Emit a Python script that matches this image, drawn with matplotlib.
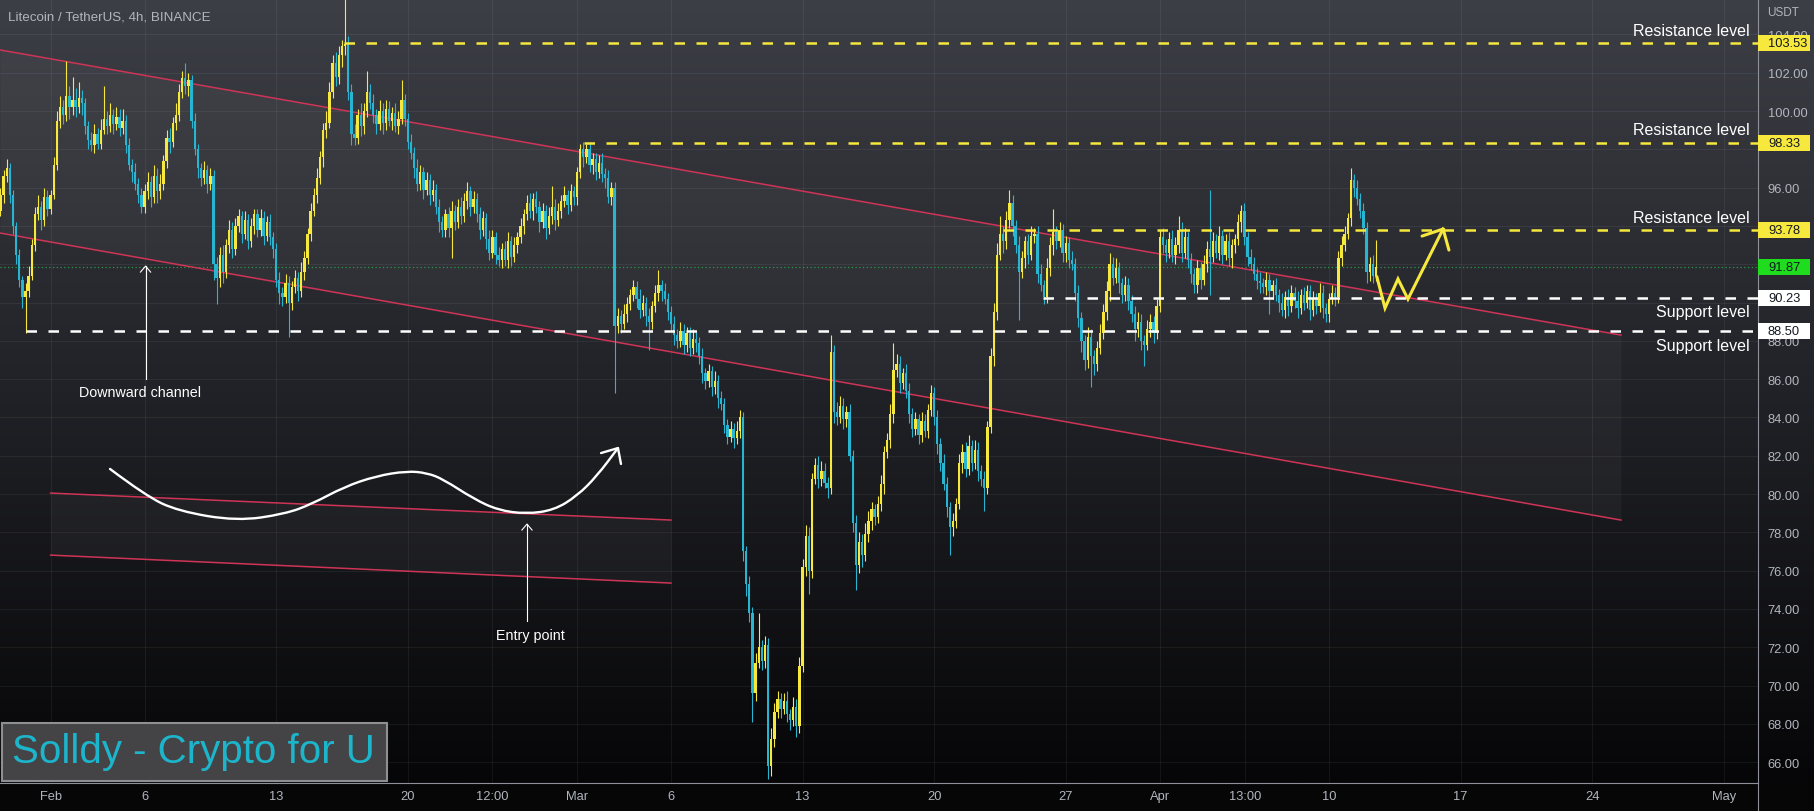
import numpy as np
import matplotlib.pyplot as plt
import matplotlib.transforms as mtransforms
from matplotlib.patches import Rectangle, PathPatch
from matplotlib.path import Path
from matplotlib.lines import Line2D

plt.rcParams['font.family'] = ['Liberation Sans', 'DejaVu Sans']

# ---- candle data (4h LTC/USDT), x = days since Feb 1 00:00 ----
t0 = -2.6667          # first candle: Jan 29 08:00
first_open = 94.8

closes = [
    95.6, 96.6, 97.0, 95.6,                     # Jan 29
    94.0, 92.5, 91.2, 90.3, 90.6, 91.4,         # Jan 30
    93.0, 94.6, 95.0, 94.3, 95.5, 94.9,         # Jan 31
    95.6, 97.2, 99.5, 100.2, 99.8, 100.8,       # Feb 1
    100.2, 100.6, 100.2, 100.7, 100.4, 99.2,    # Feb 2
    98.5, 98.2, 98.8, 98.3, 99.0, 99.6,         # Feb 3
    99.2, 99.8, 99.3, 99.7, 99.1, 99.5,         # Feb 4
    98.2, 97.2, 96.8, 96.2, 95.6, 95.0,         # Feb 5
    95.8, 96.3, 95.5, 96.6, 95.8, 96.2,         # Feb 6
    97.4, 98.6, 98.4, 99.4, 99.8, 101.0,        # Feb 7
    101.7, 101.3, 101.6, 99.5, 98.0, 97.0,      # Feb 8
    96.5, 96.9, 96.2, 96.6, 92.0, 91.3,         # Feb 9
    92.5, 91.6, 93.0, 93.8, 92.8, 94.0,         # Feb 10
    94.5, 93.6, 94.3, 93.2, 94.0, 94.6,         # Feb 11
    93.8, 94.4, 93.5, 94.2, 93.4, 92.8,         # Feb 12
    91.2, 90.5, 90.3, 91.0, 90.0, 90.8,         # Feb 13
    91.3, 90.6, 91.6, 92.3, 93.6, 94.8,         # Feb 14
    95.6, 96.5, 97.6, 99.0, 99.4, 101.0,        # Feb 15
    102.5, 101.8, 102.9, 103.4, 103.5, 101.0,   # Feb 16
    98.8, 98.6, 99.8, 99.2, 100.0, 101.0,       # Feb 17
    100.4, 99.8, 99.3, 100.0, 99.4, 100.1,      # Feb 18
    99.5, 99.9, 99.2, 99.6, 100.6, 99.6,        # Feb 19
    98.4, 97.8, 97.0, 96.2, 96.8, 95.9,         # Feb 20
    96.4, 95.6, 95.9, 95.0, 94.2, 93.8,         # Feb 21
    94.6, 93.9, 94.8, 94.2, 95.0, 94.5,         # Feb 22
    95.3, 95.8, 95.0, 95.4, 94.6, 93.8,         # Feb 23
    94.4, 93.3, 92.6, 93.4, 92.5, 92.2,         # Feb 24
    92.8, 92.2, 93.2, 92.4, 93.0, 93.4,         # Feb 25
    94.0, 94.6, 95.2, 94.8, 95.4, 95.0,         # Feb 26
    94.2, 94.8, 93.9, 94.5, 95.0, 94.3,         # Feb 27
    94.8, 95.3, 95.6, 95.1, 95.8, 95.5,         # Feb 28
    96.8, 98.0, 97.6, 98.0, 97.2, 97.5,         # Mar 1
    96.8, 97.3, 96.7, 96.5, 95.5, 96.0,         # Mar 2
    88.8, 89.3, 88.9, 89.4, 89.9, 90.4,         # Mar 3
    90.8, 90.2, 89.6, 90.0, 89.3, 89.0,         # Mar 4
    89.8, 90.5, 90.9, 90.6, 90.2, 89.5,         # Mar 5
    88.9, 88.3, 88.0, 88.5, 87.8, 88.4,         # Mar 6
    87.6, 88.1, 87.9, 87.2, 86.3, 85.9,         # Mar 7
    86.4, 85.6, 85.9, 85.0, 84.7, 83.6,         # Mar 8
    83.0, 83.4, 82.9, 83.3, 84.0, 77.0,         # Mar 9
    75.3, 73.8, 69.6, 71.2, 72.0, 71.3,         # Mar 10
    72.1, 65.8, 67.2, 68.6, 69.3, 68.8,         # Mar 11
    69.2, 68.5, 68.2, 68.9, 67.9, 71.0,         # Mar 12
    76.2, 77.8, 76.0, 80.8, 81.5, 80.8,         # Mar 13
    81.2, 80.6, 80.3, 87.4, 84.3, 84.0,         # Mar 14
    84.6, 83.9, 84.3, 82.0, 78.5, 76.3,         # Mar 15
    77.5, 76.8, 77.9, 78.6, 79.2, 78.8,         # Mar 16
    79.5, 80.5, 82.2, 82.8, 84.2, 86.5,         # Mar 17
    86.8, 85.8, 86.3, 85.4, 84.2, 83.4,         # Mar 18
    83.9, 83.1, 83.8, 83.3, 84.4, 85.3,         # Mar 19
    84.0, 82.6, 81.6, 80.5, 79.3, 78.3,         # Mar 20
    78.6, 79.5, 81.6, 82.2, 81.3, 82.5,         # Mar 21
    81.6, 82.3, 81.2, 80.8, 80.3, 83.5,         # Mar 22
    87.2, 89.5, 92.5, 93.6, 93.2, 94.3,         # Mar 23
    95.2, 94.0, 93.0, 91.6, 92.3, 93.2,         # Mar 24
    92.5, 93.5, 93.6, 91.5, 90.9, 90.3,         # Mar 25
    91.8, 93.0, 93.7, 93.2, 93.8, 92.6,         # Mar 26
    93.1, 92.2, 92.0, 90.5, 89.2, 88.0,         # Mar 27
    87.0, 88.2, 87.2, 86.8, 87.6, 88.4,         # Mar 28
    89.5, 90.6, 92.0, 91.3, 91.8, 91.0,         # Mar 29
    90.4, 90.9, 90.1, 89.4, 88.6, 89.0,         # Mar 30
    88.0, 87.8, 88.6, 89.0, 88.4, 89.8,         # Mar 31
    93.4, 93.0, 92.6, 93.3, 92.5, 93.0,         # Apr 1
    93.8, 92.6, 93.4, 92.2, 91.5, 90.9,         # Apr 2
    91.8, 91.2, 92.0, 92.8, 92.4, 93.2,         # Apr 3
    92.6, 93.5, 92.5, 93.2, 92.3, 93.0,         # Apr 4
    93.3, 94.2, 94.8, 93.4, 92.4, 92.0,         # Apr 5
    91.5, 91.1, 91.0, 90.8, 91.2, 90.6,         # Apr 6
    90.9, 90.4, 90.0, 89.6, 90.3, 89.8,         # Apr 7
    90.5, 90.1, 89.7, 90.4, 90.0, 90.6,         # Apr 8
    89.6, 90.2, 89.8, 90.5, 89.7, 89.4,         # Apr 9
    90.2, 90.5, 90.3, 92.3, 93.0, 93.6,         # Apr 10
    94.4, 96.4, 96.0, 95.4, 94.8, 93.9,         # Apr 11
    91.6, 92.0, 91.4, 91.87,                    # Apr 12
]

# wick lengths above / below the body, in tenths of a dollar
up_wick = [
    4, 3, 5, 3,
    3, 2, 3, 2, 4, 5,   3, 4, 6, 3, 5, 4,
    3, 4, 5, 6, 4, 18,  5, 12, 6, 8, 4, 3,  3, 4, 5, 3, 6, 17,  4, 6, 3, 5, 4, 6,
    3, 4, 3, 5, 3, 4,   4, 5, 3, 6, 4, 5,   3, 4, 5, 3, 6, 4,   4, 8, 4, 3, 4, 3,
    3, 5, 3, 4, 3, 4,   4, 5, 3, 5, 4, 4,   4, 3, 5, 3, 4, 3,   3, 5, 4, 3, 4, 3,
    3, 4, 3, 5, 4, 3,   4, 3, 5, 4, 3, 4,   4, 5, 3, 4, 6, 5,   4, 6, 5, 3, 25, 4,
    4, 5, 3, 6, 4, 11,  4, 5, 3, 6, 4, 5,   4, 3, 5, 4, 10, 3,  3, 4, 3, 5, 4, 3,
    4, 3, 5, 3, 4, 3,   3, 4, 5, 3, 4, 5,   4, 5, 3, 4, 3, 4,   4, 3, 5, 4, 3, 4,
    3, 4, 5, 3, 4, 3,   4, 3, 4, 5, 3, 4,   3, 4, 3, 5, 11, 4,  4, 3, 5, 3, 4, 3,
    3, 3, 4, 3, 4, 3,   3, 4, 5, 3, 4, 3,   3, 4, 3, 5, 4, 3,   4, 3, 5, 4, 3, 4,
    3, 4, 8, 3, 4, 3,   3, 4, 3, 5, 4, 3,   3, 5, 4, 3, 4, 3,   4, 3, 5, 3, 4, 3,
    3, 4, 3, 5, 4, 3,   3, 4, 3, 5, 18, 4,  5, 4, 6, 5, 4, 3,   4, 5, 3, 5, 4, 5,
    4, 6, 5, 3, 4, 5,   5, 4, 3, 9, 4, 5,   5, 4, 3, 4, 3, 4,   5, 4, 6, 5, 4, 3,
    4, 5, 3, 4, 5, 14,  5, 4, 3, 5, 4, 3,   4, 3, 5, 4, 3, 4,   3, 4, 3, 5, 4, 3,
    4, 3, 5, 4, 5, 6,   3, 5, 4, 3, 4, 3,   4, 5, 6, 9, 4, 5,   7, 4, 3, 5, 4, 3,
    4, 5, 3, 4, 5, 3,   5, 4, 12, 3, 4, 3,  4, 3, 5, 3, 4, 3,   3, 5, 4, 3, 4, 5,
    4, 5, 6, 4, 5, 3,   3, 5, 4, 3, 4, 5,   4, 3, 5, 4, 3, 4,
    4, 5, 3, 4, 5, 4,   7, 4, 5, 3, 4, 3,   4, 3, 5, 4, 31, 5,  4, 5, 3, 4, 5, 3,
    3, 4, 3, 4, 3, 4,   4, 3, 5, 3, 4, 3,   3, 4, 3, 5, 3, 4,   4, 3, 5, 3, 4, 3,
    3, 4, 3, 5, 4, 3,   3, 4, 3, 4, 5, 4,   3, 6, 3, 4, 3, 4,
    3, 4, 5, 14,
]
dn_wick = [
    3, 4, 3, 4,
    4, 5, 4, 6, 19, 3,  2, 3, 3, 5, 3, 4,
    3, 2, 3, 4, 5, 3,   6, 4, 5, 3, 6, 4,   5, 3, 4, 3, 3, 2,   4, 3, 5, 3, 4, 3,
    4, 3, 5, 3, 4, 3,   3, 4, 5, 3, 6, 4,   3, 4, 6, 3, 4, 3,   3, 4, 5, 4, 3, 5,
    4, 3, 5, 3, 8, 14,  5, 6, 3, 4, 5, 3,   3, 5, 3, 4, 3, 4,   4, 3, 5, 3, 4, 5,
    4, 6, 5, 3, 18, 4,  3, 5, 3, 4, 3, 4,   3, 4, 3, 5, 4, 3,   3, 5, 4, 6, 5, 4,
    6, 4, 3, 5, 4, 3,   3, 4, 5, 3, 6, 4,   3, 5, 3, 4, 3, 4,   4, 3, 5, 4, 3, 5,
    3, 5, 3, 4, 5, 4,   4, 5, 16, 4, 3, 4,  3, 4, 5, 3, 4, 5,   3, 5, 4, 3, 5, 3,
    4, 3, 4, 5, 3, 4,   3, 4, 3, 4, 5, 3,   5, 3, 6, 3, 4, 5,   3, 4, 3, 5, 3, 4,
    4, 3, 5, 3, 4, 5,   4, 3, 4, 5, 3, 4,   35, 4, 5, 3, 4, 3,  3, 5, 4, 3, 5, 15,
    4, 3, 4, 5, 3, 4,   4, 5, 4, 3, 5, 4,   4, 3, 5, 4, 5, 4,   3, 5, 4, 5, 3, 4,
    4, 3, 5, 3, 4, 5,   6, 5, 15, 4, 3, 5,  4, 7, 5, 4, 3, 5,   3, 4, 5, 3, 6, 4,
    3, 5, 12, 4, 3, 5,  4, 3, 5, 3, 6, 4,   3, 5, 4, 3, 5, 13,  4, 6, 3, 4, 5, 4,
    3, 4, 5, 3, 4, 5,   4, 5, 3, 4, 5, 4,   3, 5, 4, 3, 4, 3,   4, 5, 4, 3, 5, 15,
    5, 4, 3, 5, 4, 3,   4, 3, 5, 4, 12, 3,  3, 5, 4, 3, 6, 4,   4, 5, 4, 25, 3, 5,
    5, 3, 4, 5, 3, 4,   3, 4, 5, 4, 3, 5,   5, 4, 3, 4, 5, 6,   5, 4, 16, 6, 4, 3,
    3, 4, 5, 4, 3, 5,   4, 3, 5, 4, 6, 4,   5, 11, 3, 4, 5, 3,
    3, 4, 5, 3, 4, 5,   4, 5, 3, 4, 5, 4,   4, 5, 3, 4, 20, 3,  3, 4, 5, 3, 4, 5,
    4, 3, 5, 4, 5, 3,   3, 4, 5, 3, 4, 12,  4, 3, 5, 3, 4, 5,   3, 4, 5, 3, 4, 3,
    5, 3, 4, 3, 5, 4,   4, 3, 5, 3, 4, 3,   3, 4, 5, 3, 4, 3,
    6, 5, 4, 3,
]

# ---- drawings ----
levels = [103.53, 98.33, 93.78, 90.23, 88.50]
level_start = [15.61, 28.37, 50.66, 52.79, -1.31]
level_kind = ['res', 'res', 'res', 'sup', 'sup']
last_price = 91.87

channel_d = [-2.69, 83.53]
channel_up = [103.19, 88.30]
channel_lo = [93.63, 78.64]
small_d = [0.0, 33.0]
small_up = [80.05, 78.64]
small_lo = [76.81, 75.35]

curve_d = [3.16, 5.07, 6.78, 9.91, 12.47, 13.90, 15.61, 17.31, 18.96, 20.02,
           20.87, 22.52, 23.80, 25.29, 26.78, 28.00, 29.06, 30.18]
curve_p = [81.31, 79.90, 79.11, 78.59, 78.96, 79.48, 80.37, 80.94, 81.20, 81.10,
           80.78, 79.74, 79.16, 78.96, 79.16, 79.90, 80.94, 82.40]
curve_head_d = [29.28, 30.18, 30.34]
curve_head_p = [82.14, 82.40, 81.57]

zig_d = [70.55, 70.98, 71.67, 72.20, 74.07]
zig_p = [91.33, 89.71, 91.23, 90.18, 93.84]
zig_head_d = [72.95, 74.07, 74.38]
zig_head_p = [93.47, 93.84, 92.74]

price_ticks = list(range(66, 106, 2))
hidden_ticks = [98, 92, 90]          # covered by the price boxes on the scale
date_pos = [0, 5, 12, 19, 23.5, 28, 33, 40, 47, 54, 59, 63.54, 68, 75, 82, 89]
date_labels = ['Feb', '6', '13', '20', '12:00', 'Mar', '6', '13', '20', '27',
               'Apr', '13:00', '10', '17', '24', 'May']

YEL = '#f6e83c'
CYAN = '#27b5d1'
RED = '#cf3456'
GREY = '#b2b5be'

W, H = 1814, 812
PW, PH, XB = 1758, 784, 28

fig = plt.figure(figsize=(W / 100, H / 100), dpi=100)
fig.patch.set_facecolor('#060607')

# gradient background behind plot and price scale
bg = fig.add_axes([0, XB / H, 1, PH / H])
bg.set_axis_off()
stops = np.array([[61, 63, 70], [33, 34, 39], [6, 6, 8]]) / 255.0
s = np.linspace(0, 1, 400)
grad = np.stack([np.interp(s, [0, 0.5, 1], stops[:, k]) for k in range(3)], axis=-1)[:, None, :]
bg.imshow(grad, aspect='auto', extent=[0, 1, 0, 1], origin='upper')
bg.set_xlim(0, 1)
bg.set_ylim(0, 1)

ax = fig.add_axes([0, XB / H, PW / W, PH / H])
ax.set_facecolor('none')
ax.set_xlim(-2.691, 90.82)
ax.set_ylim(64.91, 105.85)

ax.grid(True, color='white', alpha=0.06, lw=0.8)
ax.set_axisbelow(True)

# channels
ax.fill_between(channel_d, channel_up, channel_lo, color='white', alpha=0.035, lw=0, zorder=1)
ax.plot(channel_d, channel_up, color=RED, lw=1.1, zorder=3)
ax.plot(channel_d, channel_lo, color=RED, lw=1.1, zorder=3)
ax.fill_between(small_d, small_up, small_lo, color='white', alpha=0.035, lw=0, zorder=1)
ax.plot(small_d, small_up, color=RED, lw=1.1, zorder=3)
ax.plot(small_d, small_lo, color=RED, lw=1.1, zorder=3)

# candles
c = np.array(closes)
o = np.r_[first_open, c[:-1]]
hi = np.maximum(o, c) + np.array(up_wick) / 10
lo = np.minimum(o, c) - np.array(dn_wick) / 10
t = t0 + np.arange(len(c)) / 6
col = np.where(c >= o, YEL, CYAN)
ax.vlines(t, lo, hi, colors=col, lw=0.8, zorder=4)
ax.bar(t, np.maximum(np.abs(c - o), 0.06), bottom=np.minimum(o, c), width=0.125,
       color=col, lw=0, zorder=5)

# last price dotted line
ax.axhline(last_price, color='#2fa34a', lw=0.9, ls=(0, (1, 2)), alpha=0.9, zorder=2)

# horizontal levels
xmax = ax.get_xlim()[1]
trans = mtransforms.blended_transform_factory(ax.transAxes, ax.transData)
for lv, st, kind in zip(levels, level_start, level_kind):
    colr = YEL if kind == 'res' else 'white'
    ax.plot([st, xmax], [lv, lv], color=colr, lw=1.8, ls=(0, (4.2, 4.6)), zorder=6)
    if kind == 'res':
        ax.text(1750 / PW, lv + 0.68, 'Resistance level', transform=trans, ha='right',
                va='center', color='white', fontsize=11.5, zorder=7)
    else:
        ax.text(1750 / PW, lv - 0.72, 'Support level', transform=trans, ha='right',
                va='center', color='white', fontsize=11.5, zorder=7)

# hand drawn curve with arrow
verts = [(curve_d[0], curve_p[0])]
codes = [Path.MOVETO]
for i in range(1, len(curve_d) - 1):
    mid = ((curve_d[i] + curve_d[i + 1]) / 2, (curve_p[i] + curve_p[i + 1]) / 2)
    verts += [(curve_d[i], curve_p[i]), mid]
    codes += [Path.CURVE3, Path.CURVE3]
verts.append((curve_d[-1], curve_p[-1]))
codes.append(Path.LINETO)
ax.add_patch(PathPatch(Path(verts, codes), fill=False, edgecolor='white', lw=1.7,
                       capstyle='round', zorder=7))
ax.plot(curve_head_d, curve_head_p, color='white', lw=1.7, solid_capstyle='round', zorder=7)

# projected zigzag
ax.plot(zig_d, zig_p, color=YEL, lw=2.2, solid_joinstyle='miter', zorder=8)
ax.plot(zig_head_d, zig_head_p, color=YEL, lw=2.2, solid_capstyle='round', zorder=8)

# text callouts with thin arrows
ax.plot([5.05, 5.05], [86.0, 91.9], color='white', lw=0.8, zorder=7)
ax.plot([4.78, 5.05, 5.32], [91.59, 91.9, 91.59], color='white', lw=0.8, zorder=7)
ax.text(4.76, 85.33, 'Downward channel', color='white', fontsize=10.3, ha='center', va='center', zorder=7)
ax.plot([25.34, 25.34], [73.37, 78.43], color='white', lw=0.8, zorder=7)
ax.plot([25.07, 25.34, 25.61], [78.12, 78.43, 78.12], color='white', lw=0.8, zorder=7)
ax.text(25.5, 72.64, 'Entry point', color='white', fontsize=10.3, ha='center', va='center', zorder=7)

# axes / ticks
ax.yaxis.tick_right()
ax.set_yticks(price_ticks)
ax.set_yticklabels(['' if v in hidden_ticks else f'{v:.2f}' for v in price_ticks])
ax.tick_params(axis='y', length=0, pad=7, labelsize=9.3, labelcolor=GREY)
ax.set_xticks(date_pos)
ax.set_xticklabels(date_labels)
ax.tick_params(axis='x', length=0, pad=5, labelsize=9.3, labelcolor=GREY)
for side in ['top', 'left']:
    ax.spines[side].set_visible(False)
for side in ['right', 'bottom']:
    ax.spines[side].set_color('#8e9199')
    ax.spines[side].set_linewidth(0.8)
fig.add_artist(Line2D([PW / W, PW / W], [0, XB / H], color='#8e9199', lw=0.8))

# price boxes on the scale
box_h = 16 / 19.15
box_w = 52 / PW
for lv, kind in zip(levels + [last_price], level_kind + ['last']):
    fc = {'res': YEL, 'sup': 'white', 'last': '#1fdc1f'}[kind]
    ax.add_patch(Rectangle((1.0, lv - box_h / 2), box_w, box_h, transform=trans,
                           facecolor=fc, edgecolor='none', clip_on=False, zorder=10))
    ax.text(1768 / PW, lv, f'{lv:.2f}', transform=trans, ha='left', va='center',
            color='#131722', fontsize=9.3, clip_on=False, zorder=11)

fig.text(8 / W, 1 - 17 / H, 'Litecoin / TetherUS, 4h, BINANCE', color=GREY,
         fontsize=9.6, ha='left', va='center')
fig.text(1767 / W, 1 - 13 / H, 'USDT', color=GREY, fontsize=8.5, ha='left', va='center')

# watermark
fig.add_artist(Rectangle((2 / W, (H - 782) / H), 385 / W, 58 / H, transform=fig.transFigure,
                         facecolor='#444446', edgecolor='#8e8f93', lw=1.5, zorder=20))
fig.text(193 / W, (H - 752) / H, 'Solldy - Crypto for U', color='#1db5cc', fontsize=29,
         ha='center', va='center', zorder=21)

fig.savefig('out.png', dpi=100)
